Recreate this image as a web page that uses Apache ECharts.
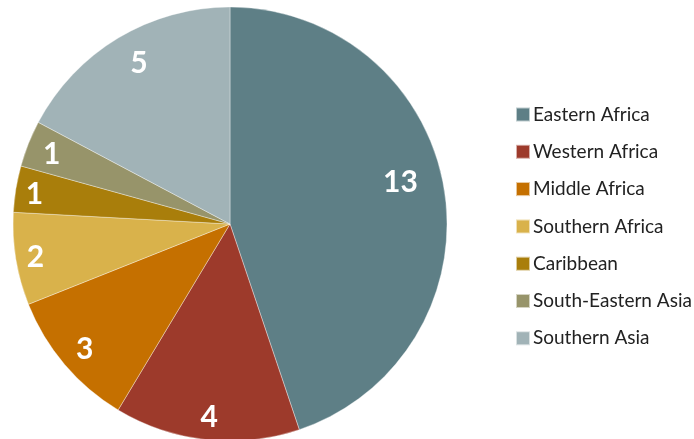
<!DOCTYPE html>
<html>
<head>
<meta charset="utf-8">
<script src="https://cdn.jsdelivr.net/npm/echarts@6/dist/echarts.min.js"></script>
<style>
  html, body { margin: 0; padding: 0; background: #fff; }
  #chart { width: 694px; height: 439px; }
</style>
</head>
<body>
<div id="chart"></div>
<script>
// Regions and their counts
const regions = ['Eastern Africa', 'Western Africa', 'Middle Africa', 'Southern Africa', 'Caribbean', 'South-Eastern Asia', 'Southern Asia'];
const counts = [13, 4, 3, 2, 1, 1, 5];
const colors = ['#5E7F86', '#9D3A2B', '#C57000', '#D9B24B', '#A97E0B', '#97946A', '#A1B3B7'];

// small per-label nudges so each value sits toward the outer rim of its slice
const labelNudge = [[-19, -11], [0, 2], [1, 1], [-5, 2], [-6, 1], [0, 1], [8, 4]];

const slices = regions.map((name, i) => ({ name, value: counts[i], itemStyle: { color: colors[i] } }));

const chart = echarts.init(document.getElementById('chart'), null, { renderer: 'canvas' });
const center = [230, 224];
const R = 217;

chart.setOption({
  animation: false,
  color: colors,
  legend: {
    orient: 'vertical',
    left: 515,
    top: 105,
    padding: 0,
    itemWidth: 14,
    itemHeight: 14,
    itemGap: 18.3,
    icon: 'rect',
    data: regions,
    textStyle: { fontFamily: 'Lato', fontSize: 19, color: '#222', padding: [0, 0, 0, -2] }
  },
  series: [
    {
      type: 'pie',
      center: center,
      radius: [0, R],
      startAngle: 90,
      clockwise: true,
      data: slices,
      label: { show: false },
      labelLine: { show: false },
      itemStyle: { borderColor: 'rgba(255,255,255,0.6)', borderWidth: 0.6 },
      emphasis: { disabled: true }
    },
    {
      // transparent ring that only carries the value labels
      type: 'pie',
      center: center,
      radius: [158, 220],
      startAngle: 90,
      clockwise: true,
      silent: true,
      legendHoverLink: false,
      data: slices.map(s => ({ name: s.name, value: s.value, itemStyle: { color: 'transparent' } })),
      itemStyle: { color: 'transparent', borderWidth: 0 },
      label: {
        show: true,
        position: 'inside',
        formatter: '{c}',
        color: '#fff',
        fontFamily: 'Lato',
        fontWeight: 'bold',
        fontSize: 30
      },
      labelLayout: function (params) {
        const n = labelNudge[params.dataIndex] || [0, 0];
        return { dx: n[0], dy: n[1] };
      },
      labelLine: { show: false },
      emphasis: { disabled: true }
    }
  ]
});
</script>
</body>
</html>
